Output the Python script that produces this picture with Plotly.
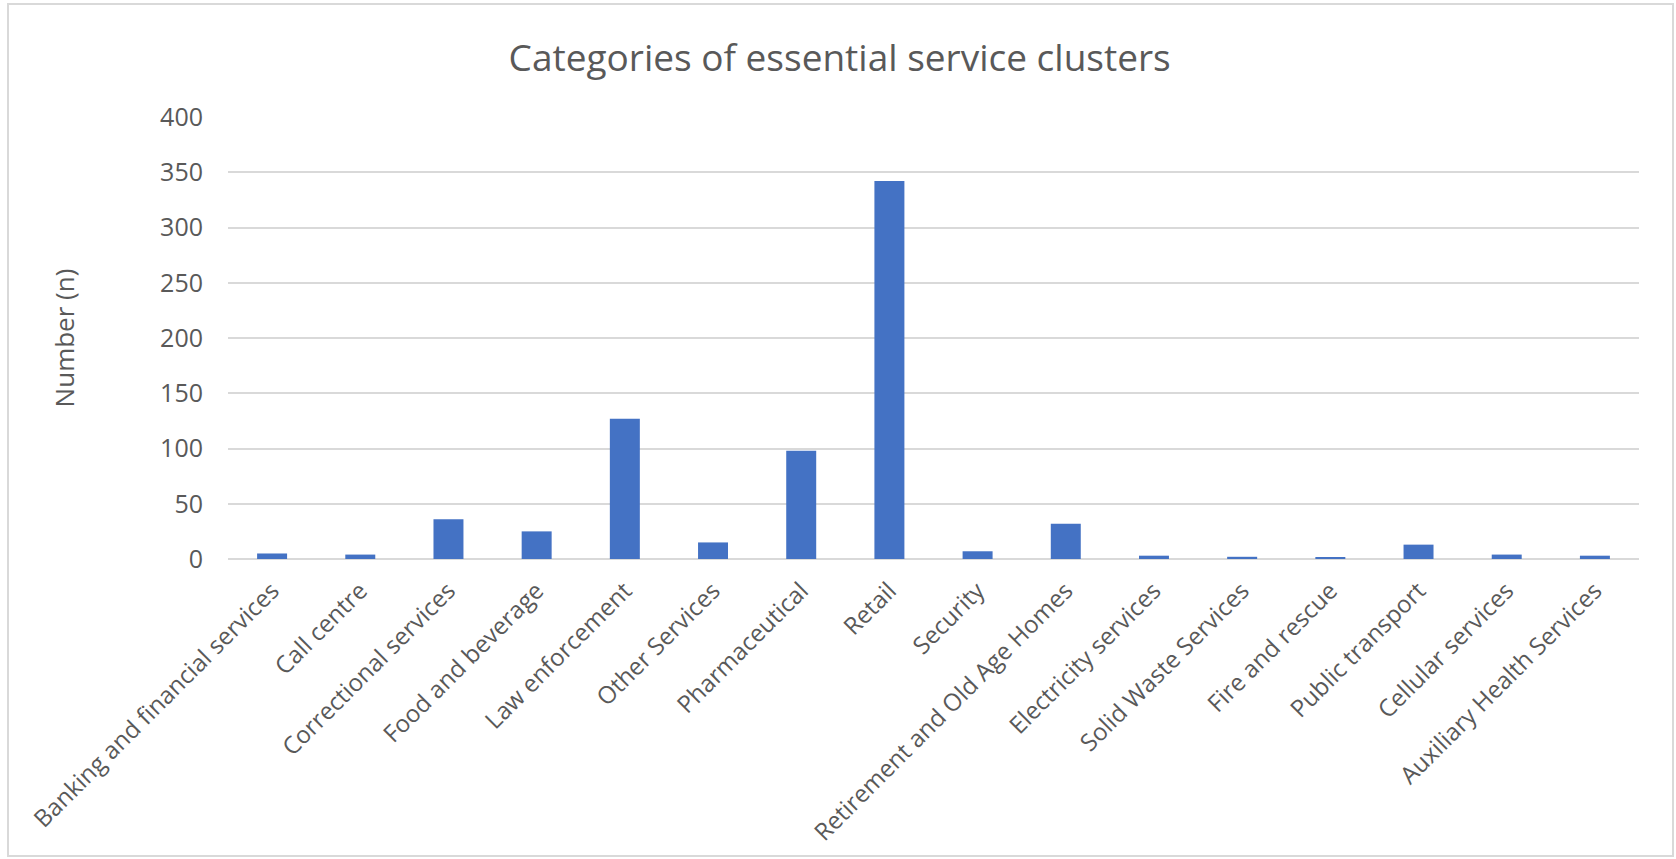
import plotly.graph_objects as go

categories = [
    "Banking and financial services", "Call centre", "Correctional services",
    "Food and beverage", "Law enforcement", "Other Services", "Pharmaceutical",
    "Retail", "Security", "Retirement and Old Age Homes", "Electricity services",
    "Solid Waste Services", "Fire and rescue", "Public transport",
    "Cellular services", "Auxiliary Health Services",
]
counts = [5, 4, 36, 25, 127, 15, 98, 342, 7, 32, 3, 2, 1, 13, 4, 3]

y_ticks = [0, 50, 100, 150, 200, 250, 300, 350, 400]

TEXT = "#595959"
GRID = "#d9d9d9"
FONT = "Open Sans"

W, H = 1676, 859
L, R, T, B = 228, 37, 117, 300

fig = go.Figure(
    go.Bar(
        x=categories,
        y=counts,
        marker=dict(color="#4472C4", line=dict(width=0)),
    )
)

pw = W - L - R
ph = H - T - B

fig.update_layout(
    width=W,
    height=H,
    margin=dict(l=L, r=R, t=T, b=B),
    paper_bgcolor="white",
    plot_bgcolor="white",
    bargap=0.66,
    showlegend=False,
    font=dict(family=FONT, color=TEXT),
    title=dict(
        text="Categories of essential service clusters",
        font=dict(family=FONT, size=37, color=TEXT),
        x=0.501,
        xref="container",
        xanchor="center",
        y=1 - 58 / H,
        yref="container",
        yanchor="middle",
    ),
    xaxis=dict(
        tickangle=-45,
        tickfont=dict(family=FONT, size=24, color=TEXT),
        showgrid=False,
        showline=False,
        ticks="",
        ticklabelstandoff=12,
    ),
    yaxis=dict(
        range=[0, 400],
        tickvals=y_ticks,
        tickfont=dict(family=FONT, size=25, color=TEXT),
        showgrid=True,
        gridcolor=GRID,
        gridwidth=2,
        zeroline=True,
        zerolinecolor=GRID,
        zerolinewidth=2,
        showline=False,
        ticks="",
        ticklabelstandoff=24,
        title=dict(text="Number (n)", font=dict(family=FONT, size=26, color=TEXT), standoff=78),
    ),
    shapes=[
        dict(
            type="rect",
            xref="paper",
            yref="paper",
            x0=(8 - L) / pw,
            x1=(1673 - L) / pw,
            y0=-(856 - (H - B)) / ph,
            y1=1 + (T - 4) / ph,
            line=dict(color=GRID, width=2),
            fillcolor="rgba(0,0,0,0)",
            layer="below",
        )
    ],
)

fig.write_html("out.html")
